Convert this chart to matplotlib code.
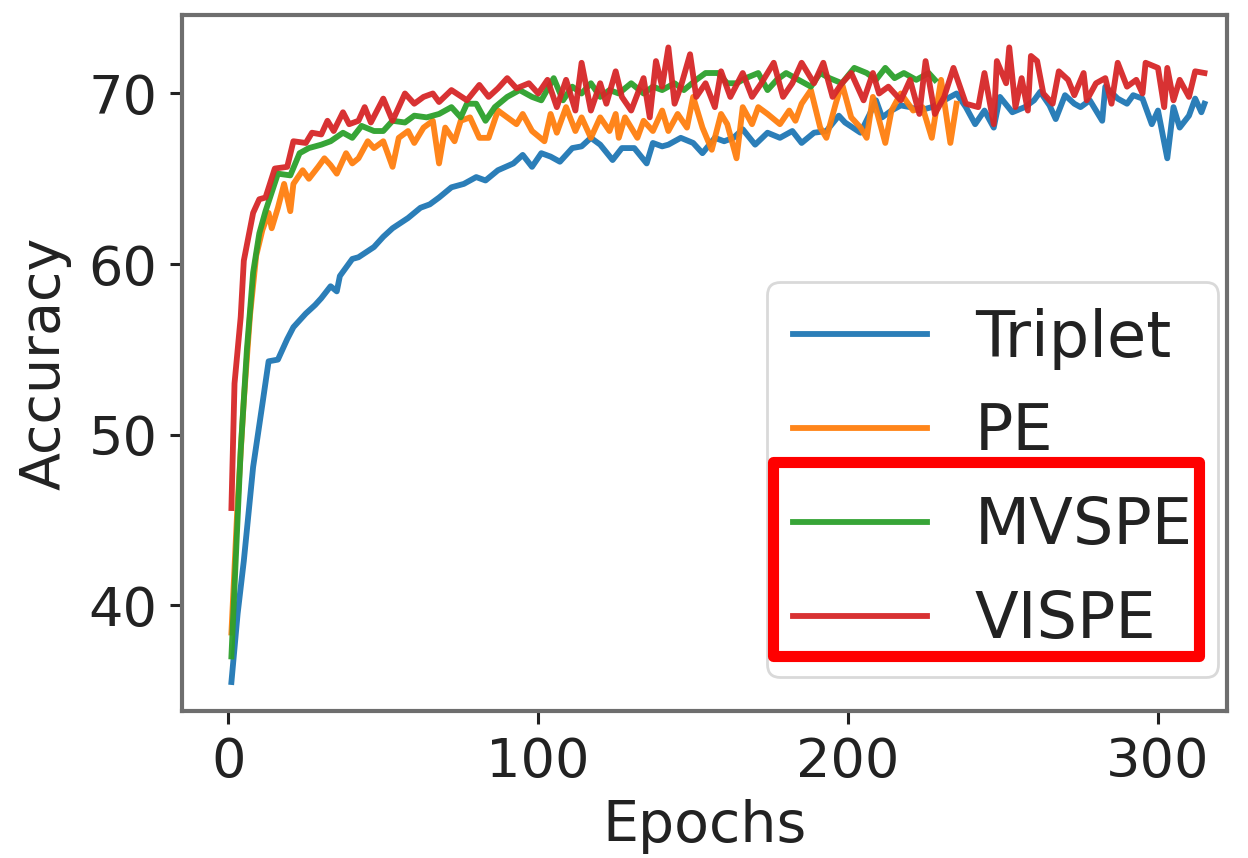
import matplotlib.pyplot as plt
from matplotlib.patches import Rectangle

# Values (epoch, accuracy)
triplet_epochs = [1, 3, 5, 8, 11, 13, 16, 19, 21, 25, 28, 30, 33, 35, 36, 40, 42, 47, 50, 53,
                  58, 62, 65, 68, 72, 76, 80, 83, 87, 92, 95, 98, 101, 104, 107, 111, 114, 117, 120, 124,
                  127, 131, 135, 137, 140, 142, 146, 150, 153, 157, 160, 163, 166, 170, 174, 178, 182, 185, 189, 193,
                  197, 199, 204, 207, 209, 211, 214, 217, 220, 223, 227, 231, 235, 238, 241, 244, 247, 249, 253, 257,
                  260, 262, 265, 267, 270, 273, 275, 278, 282, 283, 287, 290, 292, 295, 298, 300, 303, 305, 307, 310,
                  312, 314, 315]
triplet_acc = [35.5, 39.5, 42.6, 48.1, 51.8, 54.3, 54.4, 55.6, 56.3, 57.1, 57.6, 58.0, 58.7, 58.4, 59.3, 60.3, 60.4, 61.0, 61.6, 62.1,
               62.7, 63.3, 63.5, 63.9, 64.5, 64.7, 65.1, 64.9, 65.5, 65.9, 66.4, 65.7, 66.5, 66.3, 66.0, 66.8, 66.9, 67.4, 67.0, 66.1,
               66.8, 66.8, 65.9, 67.1, 66.9, 67.0, 67.4, 67.1, 66.5, 67.4, 67.2, 67.4, 67.9, 67.0, 67.7, 67.4, 67.8, 67.1, 67.7, 67.8,
               68.7, 68.3, 67.7, 68.8, 69.6, 68.6, 69.0, 69.3, 69.2, 69.0, 69.2, 69.6, 70.0, 69.2, 68.2, 69.0, 68.0, 69.8, 68.9, 69.2,
               69.6, 70.1, 69.3, 68.5, 69.9, 69.4, 69.2, 69.6, 68.4, 70.4, 69.7, 69.4, 69.9, 69.7, 68.2, 69.0, 66.2, 69.2, 68.0, 68.7,
               69.7, 68.9, 69.4]

pe_epochs = [1, 3, 5, 7, 9, 11, 13, 14, 16, 18, 20, 21, 24, 26, 29, 31, 33, 35, 38, 40,
             42, 45, 47, 50, 53, 55, 58, 60, 63, 66, 68, 70, 73, 75, 78, 81, 84, 87, 90, 93,
             95, 98, 102, 104, 106, 109, 112, 114, 117, 120, 123, 125, 126, 128, 132, 134, 137, 140, 142, 145,
             148, 150, 153, 156, 159, 161, 164, 166, 169, 171, 174, 178, 181, 183, 185, 188, 191, 193, 196, 198,
             201, 204, 206, 208, 212, 214, 217, 221, 224, 227, 230, 233, 235]
pe_acc = [38.4, 46.0, 52.0, 57.0, 60.5, 62.0, 63.0, 62.1, 63.3, 64.7, 63.1, 64.7, 65.5, 65.0, 65.7, 66.2, 65.8, 65.3, 66.5, 65.9,
          66.2, 67.2, 66.8, 67.2, 65.7, 67.4, 67.8, 67.1, 68.0, 68.4, 65.9, 68.0, 67.2, 68.4, 68.6, 67.4, 67.4, 69.0, 68.6, 68.2,
          68.8, 67.8, 67.2, 68.8, 67.7, 69.2, 67.8, 68.6, 67.4, 68.6, 67.8, 68.8, 67.4, 68.6, 67.4, 68.4, 67.8, 69.0, 67.8, 68.8,
          68.0, 69.8, 68.0, 66.7, 68.8, 68.2, 66.2, 69.2, 68.2, 69.2, 68.8, 68.2, 69.0, 68.4, 69.4, 70.2, 68.0, 67.4, 69.4, 70.6,
          68.6, 68.0, 67.4, 69.8, 67.1, 69.0, 70.0, 69.0, 69.2, 67.4, 70.8, 67.1, 69.4]

mvspe_epochs = [1, 3, 4, 6, 8, 10, 12, 16, 20, 23, 26, 30, 33, 37, 40, 43, 47, 50, 53, 57,
                60, 64, 68, 72, 75, 77, 80, 83, 86, 90, 94, 98, 101, 105, 108, 111, 114, 117, 120, 123,
                126, 130, 134, 137, 140, 144, 147, 151, 154, 158, 161, 164, 167, 171, 174, 177, 180, 184, 188, 191,
                194, 198, 202, 206, 209, 212, 215, 218, 222, 226, 228]
mvspe_acc = [37.0, 45.1, 49.1, 55.0, 59.5, 61.8, 63.1, 65.3, 65.2, 66.5, 66.8, 67.0, 67.2, 67.7, 67.4, 68.1, 67.8, 67.8, 68.4, 68.3,
             68.7, 68.6, 68.8, 69.2, 68.6, 69.4, 69.4, 68.4, 69.2, 69.8, 70.2, 69.8, 69.6, 70.9, 69.6, 70.4, 70.0, 70.6, 69.8, 70.2,
             70.0, 70.6, 70.0, 70.4, 70.2, 70.6, 70.2, 70.8, 71.2, 71.2, 70.6, 70.6, 70.9, 71.2, 70.2, 70.8, 71.2, 70.8, 70.4, 71.2,
             70.9, 70.6, 71.5, 71.2, 70.8, 71.5, 70.9, 71.2, 70.8, 71.2, 70.8]

vispe_epochs = [1, 2, 4, 5, 8, 10, 12, 15, 19, 21, 25, 27, 30, 32, 34, 37, 39, 42, 44, 46,
                50, 53, 57, 60, 63, 66, 68, 72, 77, 81, 84, 87, 90, 93, 97, 100, 103, 106, 109, 112,
                114, 117, 120, 122, 125, 127, 130, 134, 136, 138, 140, 142, 144, 146, 149, 151, 154, 157, 159, 162,
                166, 169, 172, 176, 179, 182, 185, 189, 192, 195, 198, 201, 205, 208, 210, 213, 217, 220, 223, 225,
                228, 231, 234, 238, 242, 244, 247, 248, 251, 252, 254, 256, 258, 259, 261, 263, 266, 268, 271, 273,
                276, 277, 280, 283, 285, 287, 290, 293, 295, 296, 300, 302, 303, 305, 307, 310, 312, 315]
vispe_acc = [45.7, 53.0, 56.9, 60.2, 63.0, 63.8, 63.9, 65.6, 65.7, 67.2, 67.1, 67.7, 67.6, 68.4, 67.8, 68.9, 68.2, 68.4, 69.2, 68.3,
             69.7, 68.4, 70.0, 69.4, 69.8, 70.0, 69.5, 70.2, 69.6, 70.5, 69.8, 70.3, 70.9, 70.3, 70.6, 70.0, 70.8, 69.2, 70.8, 69.0,
             71.8, 69.0, 70.6, 69.4, 71.3, 69.8, 69.0, 70.9, 68.6, 71.9, 70.4, 72.7, 69.4, 70.4, 72.3, 69.8, 70.6, 69.2, 71.3, 69.8,
             71.2, 69.8, 70.6, 71.8, 69.8, 70.6, 71.8, 70.6, 71.8, 69.8, 70.6, 71.2, 69.6, 71.2, 70.0, 70.4, 69.6, 70.8, 68.8, 71.9,
             68.8, 69.8, 71.5, 69.4, 69.2, 71.2, 68.2, 71.9, 70.6, 72.7, 69.2, 70.9, 69.0, 72.2, 71.9, 70.0, 69.4, 71.3, 70.8, 69.9,
             71.2, 69.6, 70.6, 70.9, 69.4, 71.8, 70.4, 70.8, 70.0, 71.8, 71.5, 69.2, 71.5, 69.6, 70.8, 69.8, 71.3, 71.2]

series = [
    ("Triplet", triplet_epochs, triplet_acc, "#1f77b4"),
    ("PE", pe_epochs, pe_acc, "#ff7f0e"),
    ("MVSPE", mvspe_epochs, mvspe_acc, "#2ca02c"),
    ("VISPE", vispe_epochs, vispe_acc, "#d62728"),
]

text_color = "#222222"
spine_color = "#6e6e6e"

fig = plt.figure(figsize=(12.48, 8.58), dpi=100)
ax = fig.add_axes([0.1462, 0.1713, 0.8368, 0.8112])

for name, xs, ys, color in series:
    ax.plot(xs, ys, color=color, linewidth=4.2, label=name, alpha=0.95)

ax.set_xlim(-14.8, 322.2)
ax.set_ylim(33.8, 74.6)
ax.set_xticks([0, 100, 200, 300])
ax.set_yticks([40, 50, 60, 70])

ax.set_xlabel("Epochs", fontsize=41, color=text_color, labelpad=8)
ax.set_ylabel("Accuracy", fontsize=40, color=text_color, labelpad=12)
ax.tick_params(axis="both", labelsize=39, labelcolor=text_color, color=text_color,
               length=9, width=2.2, pad=9)

for spine in ax.spines.values():
    spine.set_color(spine_color)
    spine.set_linewidth(3.0)

legend = ax.legend(loc="lower right", bbox_to_anchor=(0.992, 0.049), borderaxespad=0,
                   fontsize=46, handlelength=2.1, handletextpad=0.75, labelspacing=0.5,
                   borderpad=0.4, frameon=True, fancybox=True)
legend.get_frame().set_edgecolor("#d0d0d0")
legend.get_frame().set_linewidth(2.0)
for text in legend.get_texts():
    text.set_color(text_color)

# Red highlight box drawn around the last two legend entries
highlight = Rectangle((773 / 1248, 1 - 656 / 858), (1199 - 773) / 1248, (656 - 462) / 858,
                      transform=fig.transFigure, fill=False, edgecolor="#ff0000",
                      linewidth=8, joinstyle="round", zorder=10)
fig.patches.append(highlight)

fig.savefig("out.png", dpi=100, facecolor="white")
